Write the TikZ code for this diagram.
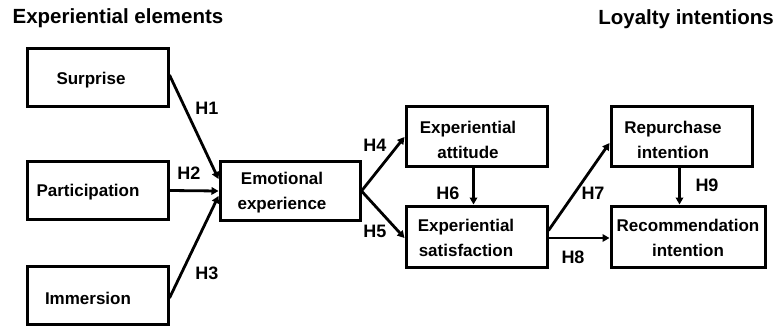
\documentclass[tikz,border=0pt]{standalone}
\usepackage{fontspec}
\setmainfont{Liberation Sans}
\usetikzlibrary{arrows.meta,calc}
\begin{document}
\begin{tikzpicture}[x=1pt,y=-1pt,
  boxshape/.style={draw,line width=3pt,rectangle,inner sep=0pt},
  boxtext/.style={font=\fontsize{17}{25}\selectfont\bfseries,align=center,inner sep=0pt},
  hlabel/.style={font=\fontsize{18}{20}\selectfont\bfseries,inner sep=0pt},
  title/.style={font=\fontsize{20.5}{24}\selectfont\bfseries,inner sep=0pt},
  arr/.style={line width=2.8pt,-{Triangle[length=7pt,width=7.5pt]}}]
\useasboundingbox (0,0) rectangle (782,326);
\fill[white] (0,0) rectangle (782,326);
% boxes
\node[boxshape,minimum width=141pt,minimum height=58pt] (S) at (97.5,78) {};
\node[boxshape,minimum width=141pt,minimum height=57pt] (P) at (97.5,190.5) {};
\node[boxshape,minimum width=141pt,minimum height=58pt] (I) at (97.5,295) {};
\node[boxshape,minimum width=140pt,minimum height=58pt] (E) at (290,191) {};
\node[boxshape,minimum width=141pt,minimum height=60pt] (A) at (476.5,137) {};
\node[boxshape,minimum width=141pt,minimum height=61pt] (Sat) at (476.5,236.5) {};
\node[boxshape,minimum width=141pt,minimum height=60pt] (R) at (681.5,137) {};
\node[boxshape,minimum width=154pt,minimum height=61pt] (Rec) at (688,236.5) {};
% texts
\node[boxtext] (tS) at (91,80) {Surprise};
\node[boxtext] (tP) at (88,192) {Participation};
\node[boxtext] (tI) at (88,298) {Immersion};
\node[boxtext] (tE) at (282,193) {Emotional\\experience};
\node[boxtext] (tA) at (468,140) {Experiential\\attitude};
\node[boxtext] (tSat) at (466,238) {Experiential\\satisfaction};
\node[boxtext] (tR) at (673,140) {Repurchase\\intention};
\node[boxtext] (tRec) at (688,238) {Recommendation\\intention};
% titles
\node[title] (t1) at (118,18) {Experiential elements};
\node[title] (t2) at (686,19) {Loyalty intentions};
% arrows
\draw[arr] ([yshift=3pt]S.east) -- ([yshift=12pt]E.west);
\draw[arr] (P.east) -- (E.west);
\draw[arr] ([yshift=-3pt]I.east) -- ([yshift=-5pt]E.west);
\draw[arr] (E.east) -- (A.west);
\draw[arr] (E.east) -- ([yshift=-1.5pt]Sat.west);
\draw[arr] ([xshift=-3pt]A.south) -- ([xshift=-3pt]Sat.north);
\draw[arr] ([yshift=6pt]Sat.east) -- ([yshift=-6pt]R.west);
\draw[arr] ([yshift=-1.5pt]Sat.east) -- ([yshift=-1.5pt]Rec.west);
\coordinate (h9s) at ([xshift=-2pt]R.south);
\draw[arr] (h9s) -- (h9s |- Rec.north);
% labels
\node[hlabel] (H1) at (207,108) {H1};
\node[hlabel] (H2) at (189,173) {H2};
\node[hlabel] (H3) at (207,273) {H3};
\node[hlabel] (H4) at (375,145) {H4};
\node[hlabel] (H5) at (375,231) {H5};
\node[hlabel] (H6) at (448,193) {H6};
\node[hlabel] (H7) at (593,193) {H7};
\node[hlabel] (H8) at (573,257) {H8};
\node[hlabel] (H9) at (707,185) {H9};
\end{tikzpicture}
\end{document}
